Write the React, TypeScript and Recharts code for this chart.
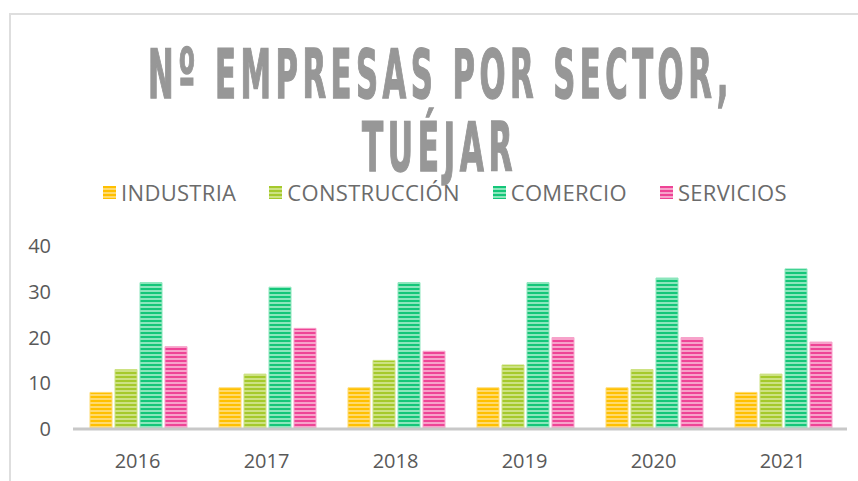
import React from 'react';
import { BarChart, Bar, XAxis, YAxis, Legend } from 'recharts';

const years = ['2016', '2017', '2018', '2019', '2020', '2021'];
const industria = [8, 9, 9, 9, 9, 8];
const construccion = [13, 12, 15, 14, 13, 12];
const comercio = [32, 31, 32, 32, 33, 35];
const servicios = [18, 22, 17, 20, 20, 19];
const yTicks = [0, 10, 20, 30, 40];
const titleLines = ['Nº EMPRESAS POR SECTOR,', 'TUÉJAR'];

const series = [
  { key: 'industria', name: 'INDUSTRIA', dark: '#FFC000', light: '#FFDA6E', values: industria },
  { key: 'construccion', name: 'CONSTRUCCIÓN', dark: '#A5C92C', light: '#CDE283', values: construccion },
  { key: 'comercio', name: 'COMERCIO', dark: '#14C679', light: '#8BE6BC', values: comercio },
  { key: 'servicios', name: 'SERVICIOS', dark: '#EE4496', light: '#F7A2CA', values: servicios },
];

const data = years.map((y, i) => {
  const row: any = { year: y };
  series.forEach((s) => (row[s.key] = s.values[i]));
  return row;
});

const FONT = "'Open Sans', 'Lato', sans-serif";
const TITLE_FONT = "'DejaVu Sans Condensed', 'Liberation Sans Narrow', 'DejaVu Sans', sans-serif";

const LegendContent = () => {
  return (
    <div style={{ display: 'flex', justifyContent: 'center', paddingLeft: 32, fontFamily: FONT, fontSize: 22, color: '#6b6b6b' }}>
      {series.map((s, i) => (
        <div key={s.key} style={{ display: 'flex', alignItems: 'center', marginRight: i < series.length - 1 ? 33 : 0 }}>
          <svg width={13} height={13} style={{ marginRight: 5 }}>
            <rect x={0} y={0} width={13} height={13} fill={`url(#stripe-${s.key})`} />
          </svg>
          <span style={{ letterSpacing: 0.3, whiteSpace: 'nowrap' }}>{s.name}</span>
        </div>
      ))}
    </div>
  );
};

export default function App() {
  return (
    <div style={{ position: 'fixed', left: 0, top: 0, width: 858, height: 481, overflow: 'hidden', background: '#fff' }}>
      <div style={{ position: 'absolute', left: 9, top: 13, width: 900, height: 500, borderLeft: '2px solid #dedede', borderTop: '2px solid #dedede' }} />
      <svg width={858} height={200} style={{ position: 'absolute', left: 0, top: 0 }}>
        <text x={148} y={98} fontFamily={TITLE_FONT} fontWeight="bold" fontSize={68} fill="#979797" stroke="#979797" strokeWidth={1.5} letterSpacing={9} textLength={585} lengthAdjust="spacingAndGlyphs">{titleLines[0]}</text>
        <text x={362} y={171} fontFamily={TITLE_FONT} fontWeight="bold" fontSize={68} fill="#979797" stroke="#979797" strokeWidth={1.5} letterSpacing={9} textLength={155} lengthAdjust="spacingAndGlyphs">{titleLines[1]}</text>
      </svg>
      <div style={{ position: 'absolute', left: 0, top: 0 }}>
        <BarChart width={858} height={481} data={data} margin={{ top: 246, right: 11, left: 0, bottom: 12 }} barCategoryGap={17} barGap={3}>
          <defs>
            {series.map((s) => (
              <pattern key={s.key} id={`stripe-${s.key}`} width={4} height={4} patternUnits="userSpaceOnUse">
                <rect x={0} y={0} width={4} height={4} fill={s.light} />
                <rect x={0} y={0} width={4} height={2} fill={s.dark} />
              </pattern>
            ))}
          </defs>
          <XAxis dataKey="year" axisLine={{ stroke: '#c8c8c8', strokeWidth: 3 }} tickLine={false} tickSize={0} tickMargin={25} height={40} tick={{ fill: '#595959', fontSize: 20, fontFamily: FONT }} />
          <YAxis domain={[0, 40]} ticks={yTicks} axisLine={false} tickLine={false} tickSize={0} tickMargin={22} width={73} tick={{ fill: '#595959', fontSize: 20, fontFamily: FONT }} />
          <Legend layout="horizontal" verticalAlign="middle" align="center" wrapperStyle={{ top: 177, left: 0, width: 858 }} content={<LegendContent />} />
          {series.map((s) => (
            <Bar key={s.key} dataKey={s.key} name={s.name} fill={`url(#stripe-${s.key})`} stroke={s.light} strokeWidth={1} isAnimationActive={false} />
          ))}
        </BarChart>
      </div>
    </div>
  );
}
